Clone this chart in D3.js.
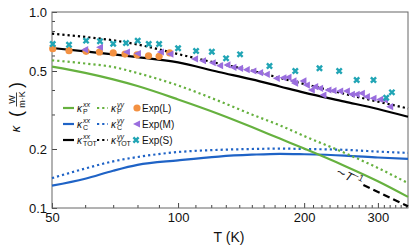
<!DOCTYPE html>
<html>
<head>
<meta charset="utf-8">
<script src="https://cdn.jsdelivr.net/npm/d3@7"></script>
<style>
  body { margin: 0; background: #fff; }
  svg text { font-family: 'Liberation Sans', Arial, Helvetica, sans-serif; fill: #111; }
  .axis path { stroke: none; }
  .axis line { stroke: #444; }
  .axis text { font-size: 13px; }
</style>
</head>
<body>
<svg id="chart" width="415" height="250"></svg>
<script>

// model curves, all on the same temperature grid
var temps   = [50, 60, 70, 80, 100, 125, 150, 175, 200, 250, 300, 354];
var kPxx    = [0.526, 0.489, 0.453, 0.419, 0.358, 0.302, 0.259, 0.226, 0.201, 0.164, 0.137, 0.114];
var kPyy    = [0.567, 0.546, 0.524, 0.488, 0.422, 0.352, 0.300, 0.264, 0.233, 0.191, 0.160, 0.134];
var kCxx    = [0.130, 0.141, 0.155, 0.166, 0.175, 0.183, 0.187, 0.189, 0.188, 0.185, 0.181, 0.178];
var kCyy    = [0.142, 0.159, 0.173, 0.182, 0.193, 0.198, 0.200, 0.201, 0.200, 0.198, 0.194, 0.191];
var kTOTxx  = [0.655, 0.629, 0.608, 0.589, 0.553, 0.494, 0.453, 0.417, 0.388, 0.349, 0.320, 0.292];
var kTOTyy  = [0.775, 0.746, 0.717, 0.683, 0.610, 0.546, 0.502, 0.461, 0.429, 0.382, 0.349, 0.322];

// ~1/T guide
var guideT = [277, 354];
var guideK = [0.131, 0.102];

// experiments
var expLT = [50.2, 54.9, 60.3, 64.9, 70, 74.7, 79.8, 85, 90.1, 95.5];
var expLK = [0.650, 0.635, 0.630, 0.625, 0.618, 0.610, 0.605, 0.598, 0.594, 0.618];

var expMT = [60, 65.1, 75.5, 80.2, 91, 95.9, 109.8, 114.7, 121, 126, 131.2, 135.6, 140.6, 145.9, 151.3,
             157, 162.9, 172.1, 178.5, 183.5, 188.6, 190.3, 199.2, 203, 208.6, 212.5, 218.4, 222.4,
             228.6, 235, 243.8, 253, 260, 267, 274.7, 282.4, 292.8, 303.8, 312, 321];
var expMK = [0.642, 0.661, 0.625, 0.614, 0.625, 0.610, 0.576, 0.564, 0.551, 0.532, 0.537, 0.522, 0.516, 0.508, 0.500,
             0.490, 0.481, 0.459, 0.462, 0.464, 0.445, 0.433, 0.445, 0.424, 0.400, 0.416, 0.408, 0.377,
             0.400, 0.397, 0.395, 0.395, 0.380, 0.380, 0.385, 0.370, 0.363, 0.358, 0.356, 0.329];

var expST = [50.2, 54.9, 60.3, 65.1, 70, 75.1, 80.1, 85.1, 90.1, 100, 110.4, 120.4, 130.2, 140.6,
             165.3, 190.5, 217.6, 242.5, 267, 292.8, 314, 324];
var expSK = [0.687, 0.681, 0.714, 0.709, 0.689, 0.695, 0.714, 0.687, 0.687, 0.653, 0.632, 0.627, 0.580, 0.608,
             0.530, 0.500, 0.516, 0.500, 0.450, 0.450, 0.365, 0.389];

var xMajor = [50, 100, 200, 300];
var xMinor = [60, 70, 80, 90, 110, 120, 130, 140, 150, 160, 170, 180, 190, 210, 220, 230, 240, 250,
              260, 270, 280, 290, 310, 320, 330, 340, 350];
var yMajor = [0.1, 0.2, 0.5, 1.0];
var yMinor = [0.3, 0.4, 0.6, 0.7, 0.8, 0.9];

var green = '#66b13f', blue = '#1f63c6', orange = '#f39142', purple = '#9a6ede', cyan = '#21a5b5';

var plotL = 52, plotT = 12, plotR = 408, plotB = 208;

var svg = d3.select('#chart');

var x = d3.scaleLog().domain([50, 354]).range([plotL, plotR]);
var y = d3.scaleLog().domain([0.1, 1]).range([plotB, plotT]);

// axes, ticks point inward
svg.append('g').attr('class', 'axis')
  .attr('transform', 'translate(0,' + plotB + ')')
  .call(d3.axisBottom(x).tickValues(xMinor).tickSize(-3).tickFormat(''));
svg.append('g').attr('class', 'axis')
  .attr('transform', 'translate(0,' + plotB + ')')
  .call(d3.axisBottom(x).tickValues(xMajor).tickSize(-5).tickPadding(5).tickFormat(d3.format('d')));
svg.append('g').attr('class', 'axis')
  .attr('transform', 'translate(' + plotL + ',0)')
  .call(d3.axisLeft(y).tickValues(yMinor).tickSize(-3).tickFormat(''));
svg.append('g').attr('class', 'axis')
  .attr('transform', 'translate(' + plotL + ',0)')
  .call(d3.axisLeft(y).tickValues(yMajor).tickSize(-5).tickPadding(5).tickFormat(d3.format('.1f')));

svg.append('rect')
  .attr('x', plotL).attr('y', plotT)
  .attr('width', plotR - plotL).attr('height', plotB - plotT)
  .attr('fill', 'none').attr('stroke', '#666').attr('stroke-width', 1);

// curves
var line = d3.line()
  .x(function(d) { return x(d[0]); })
  .y(function(d) { return y(d[1]); })
  .curve(d3.curveMonotoneX);

function pairs(ts, ks) { return ts.map(function(t, i) { return [t, ks[i]]; }); }

var curves = [
  { k: kCyy,   color: blue,   dash: '2.2,3' },
  { k: kCxx,   color: blue,   dash: null },
  { k: kPyy,   color: green,  dash: '2.2,3' },
  { k: kPxx,   color: green,  dash: null },
  { k: kTOTyy, color: '#000', dash: '2.2,3' },
  { k: kTOTxx, color: '#000', dash: null }
];

var plot = svg.append('g');

curves.forEach(function(c) {
  plot.append('path')
    .attr('d', line(pairs(temps, c.k)))
    .attr('fill', 'none')
    .attr('stroke', c.color)
    .attr('stroke-width', 2.2)
    .attr('stroke-dasharray', c.dash);
});

plot.append('path')
  .attr('d', line(pairs(guideT, guideK)))
  .attr('fill', 'none').attr('stroke', '#000')
  .attr('stroke-width', 2.2).attr('stroke-dasharray', '7,4');

// markers
var triPath = 'M-4,0L3,-3.6L3,3.6Z';
var xPath = 'M-2.6,-2.6L2.6,2.6M-2.6,2.6L2.6,-2.6';

plot.selectAll('.expL').data(pairs(expLT, expLK)).enter()
  .append('circle')
  .attr('cx', function(d) { return x(d[0]); })
  .attr('cy', function(d) { return y(d[1]); })
  .attr('r', 3.6).attr('fill', orange);

plot.selectAll('.expM').data(pairs(expMT, expMK)).enter()
  .append('path')
  .attr('d', triPath)
  .attr('transform', function(d) { return 'translate(' + x(d[0]) + ',' + y(d[1]) + ')'; })
  .attr('fill', purple);

plot.selectAll('.expS').data(pairs(expST, expSK)).enter()
  .append('path')
  .attr('d', xPath)
  .attr('transform', function(d) { return 'translate(' + x(d[0]) + ',' + y(d[1]) + ')'; })
  .attr('stroke', cyan).attr('stroke-width', 2.4).attr('fill', 'none');

// ~T^-1 label
var tl = svg.append('text')
  .attr('transform', 'translate(335,174) rotate(27)')
  .style('font-size', '12px');
tl.append('tspan').text('\u223C');
tl.append('tspan').style('font-style', 'italic').text('T');
tl.append('tspan').attr('dy', -5).style('font-size', '9px').text('\u22121');

// axis titles
svg.append('text')
  .attr('x', 229).attr('y', 242)
  .attr('text-anchor', 'middle')
  .style('font-size', '14px')
  .text('T (K)');

var yl = svg.append('g').attr('transform', 'translate(16,110) rotate(-90)');
yl.append('text').attr('x', -19).attr('y', 4).attr('text-anchor', 'middle')
  .style('font-size', '13px').style('font-style', 'italic').text('\u03BA');
yl.append('text').attr('x', -4).attr('y', 5.5).attr('text-anchor', 'middle')
  .style('font-size', '18px').style('font-weight', '300').text('(');
yl.append('text').attr('x', 25).attr('y', 5.5).attr('text-anchor', 'middle')
  .style('font-size', '18px').style('font-weight', '300').text(')');
yl.append('text').attr('x', 10.5).attr('y', -1.5).attr('text-anchor', 'middle')
  .style('font-size', '9px').text('W');
yl.append('line').attr('x1', 3.5).attr('x2', 17.5).attr('y1', 0.5).attr('y2', 0.5)
  .attr('stroke', '#111').attr('stroke-width', 0.8);
yl.append('text').attr('x', 10.5).attr('y', 8.5).attr('text-anchor', 'middle')
  .style('font-size', '9px').text('m\u00B7K');

// legend
var legRows = [108, 124, 140];
var legendLines = [
  { col: 0, row: 0, color: green,  dash: null,      sub: 'P',   sup: 'xx' },
  { col: 0, row: 1, color: blue,   dash: null,      sub: 'C',   sup: 'xx' },
  { col: 0, row: 2, color: '#000', dash: null,      sub: 'TOT', sup: 'xx' },
  { col: 1, row: 0, color: green,  dash: '2.2,3',   sub: 'P',   sup: 'yy' },
  { col: 1, row: 1, color: blue,   dash: '2.2,3',   sub: 'C',   sup: 'yy' },
  { col: 1, row: 2, color: '#000', dash: '2.2,3',   sub: 'TOT', sup: 'yy' }
];
var colX = [63, 97];

var leg = svg.append('g');
legendLines.forEach(function(d) {
  var lx = colX[d.col], ly = legRows[d.row];
  leg.append('line')
    .attr('x1', lx).attr('x2', lx + 11).attr('y1', ly).attr('y2', ly)
    .attr('stroke', d.color).attr('stroke-width', 2.2)
    .attr('stroke-dasharray', d.dash);
  leg.append('text').attr('x', lx + 14).attr('y', ly + 3.5)
    .style('font-size', '10px').style('font-style', 'italic').text('\u03BA');
  leg.append('text').attr('x', lx + 20).attr('y', ly + 6)
    .style('font-size', '7px').text(d.sub);
  leg.append('text').attr('x', lx + 20).attr('y', ly - 1)
    .style('font-size', '7px').style('font-style', 'italic').text(d.sup);
});

var mx = 137;
leg.append('circle').attr('cx', mx).attr('cy', legRows[0]).attr('r', 3.6).attr('fill', orange);
leg.append('path').attr('d', triPath)
  .attr('transform', 'translate(' + mx + ',' + legRows[1] + ')').attr('fill', purple);
leg.append('path').attr('d', xPath)
  .attr('transform', 'translate(' + (mx - 1) + ',' + legRows[2] + ')')
  .attr('stroke', cyan).attr('stroke-width', 2.4).attr('fill', 'none');

['Exp(L)', 'Exp(M)', 'Exp(S)'].forEach(function(t, i) {
  leg.append('text').attr('x', 142).attr('y', legRows[i] + 3.5)
    .style('font-size', '10px').text(t);
});

</script>
</body>
</html>
